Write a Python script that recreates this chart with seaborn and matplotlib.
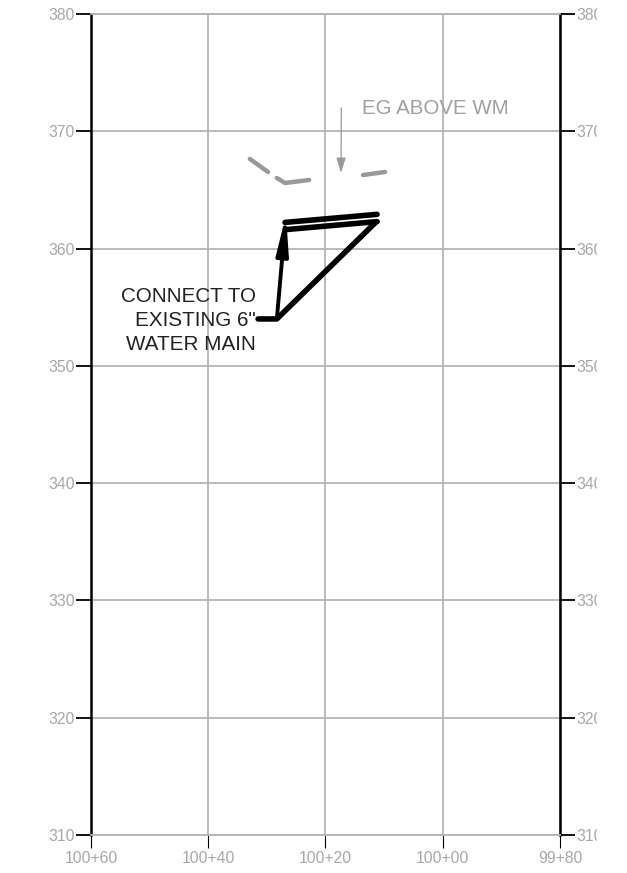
import matplotlib
matplotlib.use("Agg")
import matplotlib.pyplot as plt
from matplotlib.transforms import Bbox
import seaborn as sns

# ----- profile data (station in ft, elevation in ft) -----
station_ticks = [10060, 10040, 10020, 10000, 9980]
station_labels = ["100+60", "100+40", "100+20", "100+00", "99+80"]
elev_ticks = [310, 320, 330, 340, 350, 360, 370, 380]

# existing grade, dashed pieces
eg_sta_1 = [10032.9, 10029.8]
eg_elev_1 = [367.64, 366.53]
eg_sta_2 = [10028.3, 10026.9, 10022.8]
eg_elev_2 = [366.02, 365.59, 365.85]
eg_sta_3 = [10013.6, 10009.85]
eg_elev_3 = [366.27, 366.53]

# water main
wm_sta_1 = [10031.5, 10028.3, 10011.56]
wm_elev_1 = [354.0, 354.0, 362.18]
wm_sta_2 = [10026.9, 10011.2]
wm_elev_2 = [362.23, 362.92]
wm_sta_3 = [10026.7, 10011.2]
wm_elev_3 = [361.62, 362.3]

GRID = "#b4b4b4"
LABEL = "#a8a8a8"

sns.set_theme(style="whitegrid")
plt.rcParams["font.family"] = ["Liberation Sans", "DejaVu Sans"]

fig = plt.figure(figsize=(6.27, 8.73), dpi=100)
ax = fig.add_axes([91 / 627, 38 / 873, 469 / 627, 821 / 873])

for s, e in [(eg_sta_1, eg_elev_1), (eg_sta_2, eg_elev_2), (eg_sta_3, eg_elev_3)]:
    sns.lineplot(x=s, y=e, sort=False, estimator=None, color="#999999", linewidth=3.2, ax=ax)

for s, e in [(wm_sta_1, wm_elev_1), (wm_sta_2, wm_elev_2), (wm_sta_3, wm_elev_3)]:
    sns.lineplot(x=s, y=e, sort=False, estimator=None, color="black", linewidth=4, ax=ax)

ax.set_xlim(10060, 9980)
ax.set_ylim(310, 380)
ax.set_xticks(station_ticks, station_labels)
ax.set_yticks(elev_ticks, [str(v) for v in elev_ticks])
ax.grid(True, color=GRID, linewidth=1.3)
ax.set_axisbelow(True)

for side in ["top", "bottom"]:
    ax.spines[side].set_color(GRID)
    ax.spines[side].set_linewidth(1.3)
for side in ["left", "right"]:
    ax.spines[side].set_color("black")
    ax.spines[side].set_linewidth(1.8)

ax.tick_params(axis="y", left=True, right=True, labelleft=True, labelright=True,
               length=10.5, width=1.3, color="black", labelsize=11.3, labelcolor=LABEL, pad=1)
ax.tick_params(axis="x", bottom=True, length=9.5, width=0.8, color="black",
               labelsize=11.3, labelcolor=LABEL, pad=2)

# right hand labels are cut off at the edge of the plot sheet
clip = Bbox([[0, 0], [597, 873]])
for tick in ax.yaxis.get_major_ticks():
    tick.label2.set_clip_box(clip)
    tick.label2.set_clip_on(True)

# leaders
ax.annotate("", xy=(10026.74, 362.86), xytext=(10028.3, 354.0),
            arrowprops=dict(arrowstyle="-|>,head_length=1.4,head_width=0.22", color="black",
                            lw=2.8, mutation_scale=16, shrinkA=0, shrinkB=0))
ax.annotate("", xy=(10017.36, 366.45), xytext=(10017.3, 371.99),
            arrowprops=dict(arrowstyle="-|>,head_length=0.65,head_width=0.2", color="#999999",
                            lw=0.9, mutation_scale=14, shrinkA=0, shrinkB=0))

ax.text(10031.9, 353.87, 'CONNECT TO\nEXISTING 6"\nWATER MAIN', ha="right", va="center",
        fontsize=14.9, color="#222222", linespacing=1.36)
ax.text(10013.7, 371.95, "EG ABOVE WM", ha="left", va="center", fontsize=14.8, color="#a0a0a0")

fig.savefig("out.png", dpi=100)
